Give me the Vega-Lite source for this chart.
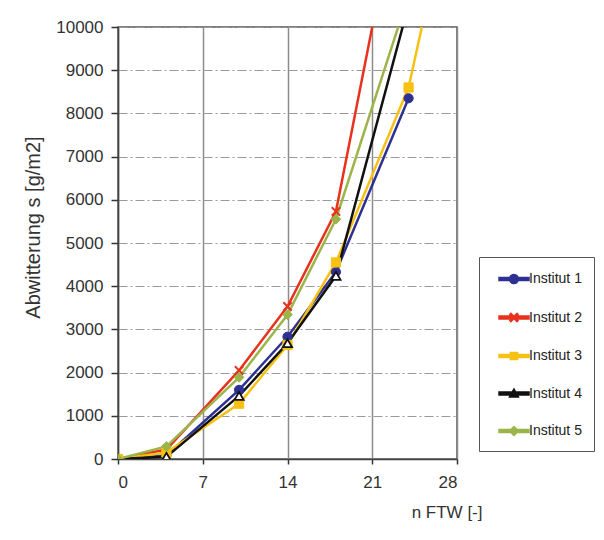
{
  "$schema": "https://vega.github.io/schema/vega-lite/v6.json",
  "width": 339,
  "height": 432,
  "autosize": {"type": "none"},
  "padding": {"left": 118, "top": 27, "right": 147, "bottom": 81},
  "background": "white",
  "config": {
    "font": "Liberation Sans",
    "view": {"stroke": "#555555", "strokeWidth": 1.5}
  },
  "data": {
    "values": [
      {"n": 0, "s": 0, "series": "Institut 1"},
      {"n": 4, "s": 80, "series": "Institut 1"},
      {"n": 10, "s": 1600, "series": "Institut 1"},
      {"n": 14, "s": 2830, "series": "Institut 1"},
      {"n": 18, "s": 4330, "series": "Institut 1"},
      {"n": 24, "s": 8350, "series": "Institut 1"},
      {"n": 0, "s": 0, "series": "Institut 2"},
      {"n": 4, "s": 220, "series": "Institut 2"},
      {"n": 10, "s": 2050, "series": "Institut 2"},
      {"n": 14, "s": 3530, "series": "Institut 2"},
      {"n": 18, "s": 5730, "series": "Institut 2"},
      {"n": 24, "s": 14270, "series": "Institut 2"},
      {"n": 0, "s": 0, "series": "Institut 3"},
      {"n": 4, "s": 150, "series": "Institut 3"},
      {"n": 10, "s": 1280, "series": "Institut 3"},
      {"n": 14, "s": 2640, "series": "Institut 3"},
      {"n": 18, "s": 4550, "series": "Institut 3"},
      {"n": 24, "s": 8600, "series": "Institut 3"},
      {"n": 28, "s": 13690, "series": "Institut 3"},
      {"n": 0, "s": 0, "series": "Institut 4"},
      {"n": 4, "s": 50, "series": "Institut 4"},
      {"n": 10, "s": 1460, "series": "Institut 4"},
      {"n": 14, "s": 2680, "series": "Institut 4"},
      {"n": 18, "s": 4240, "series": "Institut 4"},
      {"n": 24, "s": 10510, "series": "Institut 4"},
      {"n": 0, "s": 0, "series": "Institut 5"},
      {"n": 4, "s": 290, "series": "Institut 5"},
      {"n": 10, "s": 1890, "series": "Institut 5"},
      {"n": 14, "s": 3340, "series": "Institut 5"},
      {"n": 18, "s": 5550, "series": "Institut 5"},
      {"n": 24, "s": 10740, "series": "Institut 5"}
    ]
  },
  "encoding": {
    "x": {
      "field": "n",
      "type": "quantitative",
      "scale": {"domain": [0, 28], "nice": false},
      "axis": {
        "values": [0, 7, 14, 21, 28],
        "title": "n FTW [-]",
        "grid": true,
        "gridColor": "#8c8c8c",
        "gridWidth": 1.5,
        "domainColor": "#444444",
        "domainWidth": 1.5,
        "tickColor": "#333333",
        "tickSize": 5,
        "tickWidth": 1.5,
        "labelFontSize": 17,
        "labelColor": "#333333",
        "labelPadding": 10,
        "titleFontSize": 17,
        "titleFontWeight": "normal",
        "titleColor": "#333333",
        "titleX": 364,
        "titleY": 53,
        "titleAlign": "right",
        "titleBaseline": "middle",
        "titleAngle": 0
      }
    },
    "y": {
      "field": "s",
      "type": "quantitative",
      "scale": {"domain": [0, 10000], "nice": false},
      "axis": {
        "values": [0, 1000, 2000, 3000, 4000, 5000, 6000, 7000, 8000, 9000, 10000],
        "format": "d",
        "title": "Abwitterung s [g/m2]",
        "grid": true,
        "gridColor": "#9a9a9a",
        "gridDash": [9, 3, 2, 3],
        "gridWidth": 1,
        "domainColor": "#444444",
        "domainWidth": 1.5,
        "tickColor": "#333333",
        "tickSize": 7,
        "tickWidth": 1.5,
        "labelFontSize": 17,
        "labelColor": "#333333",
        "labelPadding": 8,
        "titleFontSize": 20,
        "titleFontWeight": "normal",
        "titleColor": "#333333",
        "titleX": -85,
        "titleY": 200,
        "titleAngle": -90,
        "titleAlign": "center",
        "titleBaseline": "middle"
      }
    }
  },
  "layer": [
    {
      "mark": {"type": "line", "strokeWidth": 2.5, "clip": true},
      "encoding": {
        "color": {
          "field": "series",
          "type": "nominal",
          "scale": {
            "domain": ["Institut 1", "Institut 2", "Institut 3", "Institut 4", "Institut 5"],
            "range": ["#2e3192", "#e8321e", "#f7c114", "#111111", "#9bb54a"]
          },
          "legend": {
            "title": null,
            "orient": "none",
            "legendX": 361,
            "legendY": 230,
            "padding": 12,
            "strokeColor": "#555555",
            "fillColor": "#ffffff",
            "symbolSize": 324,
            "symbolOpacity": 1,
            "rowPadding": 20.5,
            "labelOffset": 18,
            "labelFontSize": 14,
            "labelColor": "#222222"
          }
        }
      }
    },
    {
      "transform": [{"filter": {"field": "series", "equal": "Institut 1"}}],
      "mark": {"type": "point", "shape": "circle", "size": 85, "fill": "#2e3192", "stroke": "#2e3192", "strokeWidth": 1, "opacity": 1, "clip": true}
    },
    {
      "transform": [{"filter": {"field": "series", "equal": "Institut 2"}}],
      "mark": {"type": "point", "shape": "M-1,-1L1,1M-1,1L1,-1", "size": 70, "fill": "transparent", "stroke": "#e8321e", "strokeWidth": 2, "opacity": 1, "clip": true}
    },
    {
      "transform": [{"filter": {"field": "series", "equal": "Institut 3"}}],
      "mark": {"type": "point", "shape": "square", "size": 85, "fill": "#f7c114", "stroke": "#f7c114", "strokeWidth": 1, "opacity": 1, "clip": true}
    },
    {
      "transform": [{"filter": {"field": "series", "equal": "Institut 4"}}],
      "mark": {"type": "point", "shape": "triangle-up", "size": 85, "fill": "#ffffff", "stroke": "#111111", "strokeWidth": 1.8, "opacity": 1, "clip": true}
    },
    {
      "transform": [{"filter": {"field": "series", "equal": "Institut 5"}}],
      "mark": {"type": "point", "shape": "diamond", "size": 95, "fill": "#9bb54a", "stroke": "#9bb54a", "strokeWidth": 1, "opacity": 1, "clip": true}
    },
    {
      "transform": [{"filter": "datum.n < 0"}],
      "mark": {"type": "point", "filled": true, "size": 324, "opacity": 1},
      "encoding": {
        "color": {
          "field": "series",
          "type": "nominal",
          "scale": {
            "domain": ["Institut 1", "Institut 2", "Institut 3", "Institut 4", "Institut 5"],
            "range": ["#2e3192", "#e8321e", "#f7c114", "#111111", "#9bb54a"]
          }
        },
        "shape": {
          "field": "series",
          "type": "nominal",
          "scale": {
            "domain": ["Institut 1", "Institut 2", "Institut 3", "Institut 4", "Institut 5"],
            "range": [
              "M-0.22,-0.16H3.11V0.16H-0.22ZM1.94,0A0.5,0.5,0,1,1,0.94,0A0.5,0.5,0,1,1,1.94,0Z",
              "M-0.22,-0.16H3.11V0.16H-0.22ZM1.097,-0.457L1.897,0.343L1.783,0.457L0.983,-0.343ZM0.983,0.343L1.783,-0.457L1.897,-0.343L1.097,0.457Z",
              "M-0.22,-0.16H3.11V0.16H-0.22ZM1.04,-0.4H1.84V0.4H1.04Z",
              "M-0.22,-0.16H3.11V0.16H-0.22ZM1.44,-0.5L1.94,0.4L0.94,0.4Z",
              "M-0.22,-0.16H3.11V0.16H-0.22ZM1.44,-0.5L1.94,0L1.44,0.5L0.94,0Z"
            ]
          }
        }
      }
    }
  ]
}
